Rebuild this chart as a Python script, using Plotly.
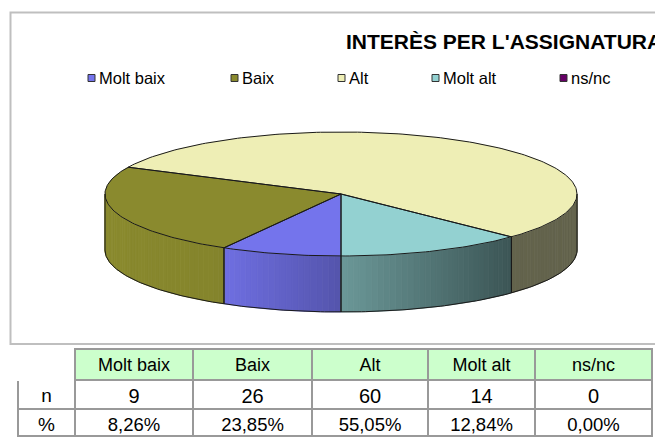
import numpy as np
import plotly.graph_objects as go

# ---------------- data ----------------
categories = ["Molt baix", "Baix", "Alt", "Molt alt", "ns/nc"]
counts = [9, 26, 60, 14, 0]
percent_labels = ["8,26%", "23,85%", "55,05%", "12,84%", "0,00%"]
colors = ["#7474EC", "#8A8A2E", "#EEEEB5", "#93D1D1", "#660066"]
title_text = "INTERÈS PER L'ASSIGNATURA"
row_labels = ["n", "%"]

# ---------------- layout constants ----------------
W, H = 655, 438
CX, CY, RX, RY, DEPTH = 341, 194, 236, 62, 56
START = 270.0  # first slice starts at front and runs clockwise
FONT = "Liberation Sans, Arial, sans-serif"


def hex2rgb(h):
    h = h.lstrip("#")
    return [int(h[i:i + 2], 16) for i in (0, 2, 4)]


def shade(hexcol, f):
    r, g, b = hex2rgb(hexcol)
    return "rgb(%d,%d,%d)" % (min(255, r * f), min(255, g * f), min(255, b * f))


def shade_factor(c):
    return float(np.interp(c, [-1, -0.5, 0, 0.7, 1], [1.0, 0.96, 0.73, 0.42, 0.42]))


def top_pt(t):
    r = np.radians(t)
    return CX + RX * np.cos(r), CY - RY * np.sin(r)


fig = go.Figure()

total = float(sum(counts))
cum = np.concatenate([[0], np.cumsum(counts)])
bounds = [(START - cum[i + 1] * 360 / total, START - cum[i] * 360 / total) for i in range(len(counts))]

# ---- side walls (front half only), drawn as thin shaded strips ----
front_ranges = [(180.0, 270.0), (-90.0, 0.0)]
for i, (lo, hi) in enumerate(bounds):
    if counts[i] == 0:
        continue
    for flo, fhi in front_ranges:
        a, b = max(lo, flo), min(hi, fhi)
        if b <= a:
            continue
        n = max(2, int(np.ceil((b - a) / 1.5)))
        edges = np.linspace(a, b, n + 1)
        for t0, t1 in zip(edges[:-1], edges[1:]):
            x0, y0 = top_pt(t0)
            x1, y1 = top_pt(t1)
            tm = 0.5 * (t0 + t1)
            col = shade(colors[i], shade_factor(np.cos(np.radians(tm))))
            fig.add_trace(go.Scatter(
                x=[x0, x1, x1, x0, x0], y=[y0, y1, y1 + DEPTH, y0 + DEPTH, y0],
                mode="lines", fill="toself", fillcolor=col,
                line=dict(color=col, width=0.8), hoverinfo="skip", showlegend=False))

# ---- top faces ----
for i, (lo, hi) in enumerate(bounds):
    if counts[i] == 0:
        continue
    ts = np.linspace(hi, lo, max(3, int(abs(hi - lo) * 2)))
    xs, ys = [CX], [CY]
    for t in ts:
        x, y = top_pt(t)
        xs.append(x)
        ys.append(y)
    xs.append(CX)
    ys.append(CY)
    fig.add_trace(go.Scatter(
        x=xs, y=ys, mode="lines", fill="toself", fillcolor=colors[i],
        line=dict(color=colors[i], width=0.5), hoverinfo="skip",
        name=categories[i], showlegend=False))

# ---- outlines ----
ox, oy = [], []
for t in np.linspace(0, 360, 361):
    x, y = top_pt(t)
    ox.append(x)
    oy.append(y)
ox.append(None)
oy.append(None)
for t in np.linspace(180, 360, 181):
    x, y = top_pt(t)
    ox.append(x)
    oy.append(y + DEPTH)
ox.append(None)
oy.append(None)
for t in (180, 360):
    x, y = top_pt(t)
    ox += [x, x, None]
    oy += [y, y + DEPTH, None]
for i, (lo, hi) in enumerate(bounds):
    if counts[i] == 0:
        continue
    for t in (lo, hi):
        x, y = top_pt(t)
        ox += [CX, x, None]
        oy += [CY, y, None]
        tt = t % 360
        if 180 < tt < 360:
            ox += [x, x, None]
            oy += [y, y + DEPTH, None]
fig.add_trace(go.Scatter(x=ox, y=oy, mode="lines", line=dict(color="#1a1a1a", width=1),
                         hoverinfo="skip", showlegend=False))

# ---- legend (custom, Excel-like) ----
legend_x = [88, 231, 338, 432, 560]
LEG_Y = 78
shapes = []
annotations = []
for cat, col, lx in zip(categories, colors, legend_x):
    shapes.append(dict(type="rect", xref="x", yref="y", x0=lx, x1=lx + 7, y0=LEG_Y - 3.5, y1=LEG_Y + 3.5,
                       fillcolor=col, line=dict(color="#333333", width=1)))
    annotations.append(dict(x=lx + 9, y=LEG_Y, xref="x", yref="y", text=cat, showarrow=False,
                            xanchor="left", yanchor="middle",
                            font=dict(family=FONT, size=16.5, color="black")))

annotations.append(dict(x=344, y=41, xref="x", yref="y", text="<b>%s</b>" % title_text,
                        showarrow=False, xanchor="left", yanchor="middle",
                        font=dict(family=FONT, size=21, color="black")))

shapes.append(dict(type="rect", xref="x", yref="y", x0=10.5, x1=720, y0=12.5, y1=344,
                   line=dict(color="#BFBFBF", width=2), fillcolor="rgba(0,0,0,0)", layer="below"))

# ---- table: header + n row ----
col_widths = [57, 118, 119, 116, 107, 117]
tx = [18 / W, 652 / W]
header_vals = [""] + categories
n_vals = [[row_labels[0]]] + [[str(c)] for c in counts]
header_fill = ["white"] + ["#CCFFCC"] * len(categories)
header_line = ["white"] + ["#999999"] * len(categories)

fig.add_trace(go.Table(
    domain=dict(x=tx, y=[1 - 411 / H, 1 - 349 / H]),
    columnwidth=col_widths,
    header=dict(values=header_vals, fill=dict(color=header_fill),
                line=dict(color=header_line, width=2), align="center", height=31,
                font=dict(family=FONT, size=18, color="black")),
    cells=dict(values=n_vals, fill=dict(color="white"),
               line=dict(color="#999999", width=2), align="center", height=29,
               font=dict(family=FONT, size=[19] + [20] * 5, color="black")),
))

# ---- table: % row ----
pct_vals = [row_labels[1]] + percent_labels
fig.add_trace(go.Table(
    domain=dict(x=tx, y=[0, 1 - 409 / H]),
    columnwidth=col_widths,
    header=dict(values=pct_vals, fill=dict(color="white"),
                line=dict(color="#999999", width=2), align="center", height=27,
                font=dict(family=FONT, size=[19] + [18.5] * 5, color="black")),
    cells=dict(values=[[] for _ in pct_vals], fill=dict(color="white"),
               line=dict(color="white", width=0), height=1),
))

fig.update_layout(
    width=W, height=H, margin=dict(l=0, r=0, t=0, b=0),
    paper_bgcolor="white", plot_bgcolor="white",
    xaxis=dict(range=[0, W], visible=False, fixedrange=True, domain=[0, 1]),
    yaxis=dict(range=[H, 0], visible=False, fixedrange=True, domain=[0, 1]),
    shapes=shapes, annotations=annotations, showlegend=False,
)

fig.write_html("out.html", config={"displayModeBar": False},
               post_script="document.body.style.margin='0';document.body.style.overflow='hidden';")
